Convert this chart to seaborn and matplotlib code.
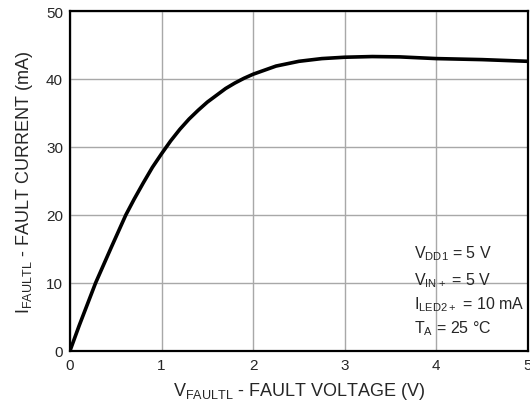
import matplotlib
matplotlib.use('Agg')
import matplotlib.pyplot as plt  # 시각화용
import seaborn as sns  # 통계 시각화용
import pandas as pd  # 데이터프레임 처리용

# ------------------------------
# 그래프 데이터
# ------------------------------
fault_voltage = [0, 0.1, 0.2, 0.28, 0.45, 0.61, 0.7, 0.8, 0.9, 1.0, 1.1, 1.2, 1.3, 1.4,
                 1.5, 1.6, 1.7, 1.8, 1.9, 2.0, 2.25, 2.5, 2.75, 3.0, 3.3, 3.6,
                 4.0, 4.5, 5.0]
fault_current = [0, 3.7, 7.2, 10, 15.2, 20, 22.3, 24.7, 27.0, 29.0, 30.9, 32.6, 34.1, 35.4,
                 36.6, 37.6, 38.6, 39.4, 40.1, 40.7, 41.9, 42.6, 43.0, 43.2, 43.3, 43.25,
                 43.0, 42.85, 42.6]
x_ticks = [0, 1, 2, 3, 4, 5]
y_ticks = [0, 10, 20, 30, 40, 50]
conditions = [r'V$_{DD1}$ = 5 V', r'V$_{IN+}$ = 5 V',
              r'I$_{LED2+}$ = 10 mA', r'T$_{A}$ = 25 °C']

df = pd.DataFrame({'v': fault_voltage, 'i': fault_current})

# ------------------------------
# 스타일 설정
# ------------------------------
sns.set_style('white')
plt.rcParams['font.family'] = ['Liberation Sans', 'DejaVu Sans']
plt.rcParams['mathtext.default'] = 'regular'

fig = plt.figure(figsize=(5.3, 4.14), dpi=100)
ax = fig.add_axes([0.132, 0.150, 0.864, 0.821])

sns.lineplot(data=df, x='v', y='i', color='black', linewidth=2.6, ax=ax)

ax.set_xlim(0, 5)
ax.set_ylim(0, 50)
ax.set_xticks(x_ticks)
ax.set_yticks(y_ticks)
ax.grid(True, color='#a8a8a8', linewidth=1.0)
ax.tick_params(axis='both', length=0, labelsize=11, pad=5)
for s in ax.spines.values():
    s.set_color('black')
    s.set_linewidth(1.6)

ax.set_xlabel(r'V$_{FAULTL}$ - FAULT VOLTAGE (V)', fontsize=13, labelpad=6)
ax.set_ylabel(r'I$_{FAULTL}$ - FAULT CURRENT (mA)', fontsize=13, labelpad=8)

# 조건 표시
y_pos = [13.8, 9.8, 6.3, 2.75]
for txt, yy in zip(conditions, y_pos):
    ax.text(3.76, yy, txt, fontsize=11.5, ha='left', va='baseline')

fig.savefig('out.png', dpi=100)
